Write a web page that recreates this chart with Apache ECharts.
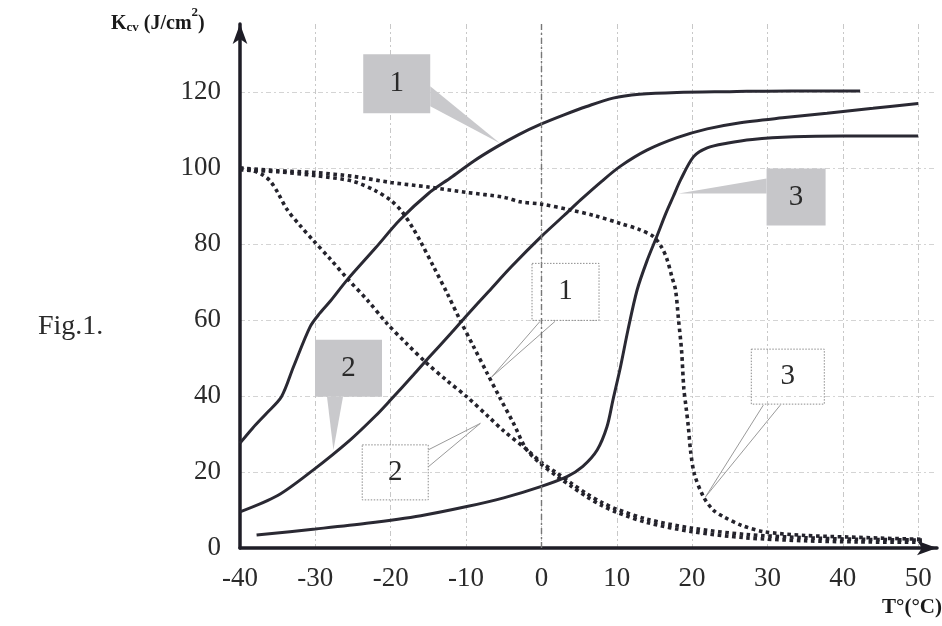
<!DOCTYPE html>
<html>
<head>
<meta charset="utf-8">
<script src="https://cdn.jsdelivr.net/npm/echarts@6/dist/echarts.min.js"></script>
<style>
html,body{margin:0;padding:0;background:#fff;}
#c{width:942px;height:626px;}
</style>
</head>
<body>
<div id="c"></div>
<script>
// ---- data (T in °C, Kcv in J/cm²) ----
const xTicks = [-40, -30, -20, -10, 0, 10, 20, 30, 40, 50];
const yTicks = [0, 20, 40, 60, 80, 100, 120];

const solid1T = [-40, -38.3, -36.5, -34.5, -32.9, -30.7, -29.4, -28, -25.8, -22, -18.8, -15, -12, -9, -6, -3, 0, 3, 6, 9.5, 13, 18, 25, 33, 42.3];
const solid1K = [27.6, 31.6, 35.4, 39.8, 47.7, 58.2, 61.8, 65, 70.5, 79, 86.3, 93.3, 97.5, 101.8, 105.5, 108.8, 111.6, 114, 116.2, 118.4, 119.4, 119.9, 120.1, 120.3, 120.3];

const solid2T = [-40, -35, -30.3, -25.4, -22, -20, -17, -15, -12, -10, -7, -4, 0, 3, 5.2, 8, 10.5, 14, 18, 22, 26, 32, 37.9, 44, 50];
const solid2K = [9.5, 13.8, 20.5, 28.4, 34.8, 39, 45.5, 50, 56.5, 61, 67.5, 74, 82, 87.5, 91.6, 96.5, 100.5, 104.7, 108, 110.3, 111.8, 113.2, 114.4, 115.7, 117];

const solid3T = [-37.8, -30, -23.2, -16, -9.9, -5, -0.2, 3.4, 5.5, 7.4, 8.7, 9.5, 10.5, 11.5, 12.7, 14, 15.3, 16.5, 17.5, 18.5, 20.2, 22, 24.6, 28, 33.5, 40, 50];
const solid3K = [3.4, 5, 6.5, 8.5, 10.9, 13.2, 16.1, 18.8, 21.5, 25.8, 31.9, 39, 47.7, 57.5, 67.9, 75.5, 81.9, 88, 92.5, 97, 103, 105.3, 106.5, 107.5, 108.2, 108.4, 108.4];

const dot1T = [-40, -35, -30, -25, -22, -20, -18.5, -17, -16, -14.3, -12.5, -10.8, -9, -7.2, -5.5, -3.7, -2, 0, 2, 4, 6, 8, 10, 14, 20, 27, 35, 42, 50.5];
const dot1K = [99.5, 99, 98, 96.5, 94, 91.5, 88.5, 84, 80.5, 74, 67, 60, 53, 46, 39.5, 32.8, 26, 22, 19, 16.2, 13.5, 11.2, 9.4, 6.7, 4.3, 2.7, 1.9, 1.6, 1.5];

const dot2T = [-40, -38.5, -37, -36, -35, -33.8, -32, -30.3, -28, -25.8, -23, -20.5, -18, -15.2, -12.5, -9.9, -7, -5, -2, 0, 2, 4, 6, 8, 10, 14, 20, 27, 35, 42, 50.5];
const dot2K = [100, 99.4, 98.2, 96.6, 93.6, 89.2, 84.8, 81, 76, 71, 65, 59.1, 54, 48.6, 44, 39.8, 34.5, 30.8, 26, 22.5, 19.8, 17, 14.3, 12, 10.2, 7.6, 5.2, 3.6, 2.7, 2.3, 2.1];

const dot3T = [-40, -35, -30, -25, -20, -15, -10, -5, -2.8, 0, 3.8, 7, 10.5, 13, 14.9, 16, 16.7, 17.3, 17.8, 18.2, 18.6, 18.9, 19.2, 19.5, 19.8, 20.3, 21.5, 22.8, 24.2, 26.5, 29.5, 35, 40.6, 45, 50.3];
const dot3K = [100, 99.3, 98.8, 97.8, 96.2, 95, 93.6, 92.3, 91.1, 90.5, 89, 87.5, 85.4, 83.8, 81.9, 79, 75.8, 71.5, 67.9, 60, 52, 42, 37, 31.9, 25.5, 19.5, 13.5, 10, 8.2, 6, 4.3, 3.3, 2.9, 2.6, 2.3];

// annotation labels: box centre and pointer tip in data units
const calloutLabels = ['1', '2', '3', '1', '2', '3'];
const calloutKinds = ['gray', 'gray', 'gray', 'white', 'white', 'white'];
const calloutCenter = [[-19.2, 122.2], [-25.6, 47.3], [33.8, 92.4], [3.2, 67.4], [-19.4, 19.9], [32.7, 45.1]];
const calloutTip = [[-5.5, 106.5], [-27.6, 25.8], [18.2, 93.3], [-6.6, 45], [-8.1, 32.8], [21.8, 13.5]];

function zip(a, b) { return a.map((v, i) => [v, b[i]]); }

const FONT = '"Liberation Serif", "DejaVu Serif", serif';
const LINE = '#2a2933';

const chart = echarts.init(document.getElementById('c'), null, {renderer: 'canvas'});

function solidSeries(name, T, K) {
  return {
    name, type: 'line', data: zip(T, K), showSymbol: false, symbol: 'none',
    smooth: 0.3,
    lineStyle: {color: LINE, width: 3}, z: 3, silent: true
  };
}
function dotSeries(name, T, K) {
  return {
    name, type: 'line', data: zip(T, K), showSymbol: false, symbol: 'none',
    smooth: 0.3,
    lineStyle: {color: '#24232c', width: 3.6, type: 'dotted'}, z: 3, silent: true
  };
}

const series = [
  solidSeries('s1', solid1T, solid1K),
  solidSeries('s2', solid2T, solid2K),
  solidSeries('s3', solid3T, solid3K),
  dotSeries('d1', dot1T, dot1K),
  dotSeries('d2', dot2T, dot2K),
  dotSeries('d3', dot3T, dot3K)
];
series[0].markLine = {
  silent: true, symbol: 'none', label: {show: false},
  lineStyle: {color: '#777', type: [6, 3, 2, 3], width: 1.4},
  data: [{xAxis: 0}]
};

chart.setOption({
  animation: false,
  backgroundColor: '#ffffff',
  grid: {left: 240, right: 5, top: 24, bottom: 78},
  xAxis: {
    type: 'value', min: -40, max: 52.5, interval: 10,
    axisLine: {show: true, onZero: false, lineStyle: {color: '#1e1d26', width: 3.5},
      symbol: ['none', 'arrow'], symbolSize: [11, 20]},
    axisTick: {show: false},
    axisLabel: {
      showMaxLabel: false, margin: 17, color: '#2a2a2a', fontFamily: FONT, fontSize: 27,
      formatter: v => (xTicks.indexOf(v) >= 0 ? String(v) : '')
    },
    splitLine: {show: true, showMaxLine: false, showMinLine: false,
      lineStyle: {color: '#c8c8c8', type: [5, 3, 2, 3], width: 1}}
  },
  yAxis: {
    type: 'value', min: 0, max: 137.9, interval: 20,
    axisLine: {show: true, onZero: false, lineStyle: {color: '#1e1d26', width: 3.5},
      symbol: ['none', 'arrow'], symbolSize: [11, 20]},
    axisTick: {show: false},
    axisLabel: {
      showMaxLabel: false, margin: 19, color: '#2a2a2a', fontFamily: FONT, fontSize: 27,
      formatter: v => (yTicks.indexOf(v) >= 0 ? String(v) : '')
    },
    splitLine: {show: true, showMaxLine: false, showMinLine: false,
      lineStyle: {color: '#d4d4d4', type: [5, 3, 2, 3], width: 1}}
  },
  series
});

// build annotations in pixel space from data coordinates
const gfx = [];
gfx.push({
  type: 'text', left: 111, top: 6, z: 10,
  style: {
    text: '{b|K}{sub|cv}{b| (J/cm}{sup|2}{b|)}',
    rich: {
      b: {fontFamily: FONT, fontWeight: 'bold', fontSize: 20, fill: '#1a1a1a', verticalAlign: 'bottom', lineHeight: 28},
      sub: {fontFamily: FONT, fontWeight: 'bold', fontSize: 13, fill: '#1a1a1a', verticalAlign: 'bottom', lineHeight: 22},
      sup: {fontFamily: FONT, fontWeight: 'bold', fontSize: 13, fill: '#1a1a1a', verticalAlign: 'top', lineHeight: 28}
    }
  }
});
gfx.push({
  type: 'text', right: 0, top: 597, z: 10,
  style: {text: 'T°(°C)', fontFamily: FONT, fontWeight: 'bold', fontSize: 21, fill: '#1a1a1a'}
});
gfx.push({
  type: 'text', left: 38, top: 313, z: 10,
  style: {text: 'Fig.1.', fontFamily: FONT, fontSize: 28, fill: '#2a2a2a'}
});

const boxSize = [[67, 59], [67, 57], [59, 57], [67, 57], [66, 55], [73, 55]];
for (let i = 0; i < calloutLabels.length; i++) {
  const c = chart.convertToPixel({gridIndex: 0}, calloutCenter[i]);
  const t = chart.convertToPixel({gridIndex: 0}, calloutTip[i]);
  const w = boxSize[i][0], h = boxSize[i][1];
  const x0 = c[0] - w / 2, y0 = c[1] - h / 2;
  let b1, b2;
  if (i === 0) { b1 = [x0 + w, y0 + 32]; b2 = [x0 + w, y0 + 52]; }
  else if (i === 1) { b1 = [x0 + 12, y0 + h]; b2 = [x0 + 28, y0 + h]; }
  else if (i === 2) { b1 = [x0, y0 + 10]; b2 = [x0, y0 + 25]; }
  else if (i === 3) { b1 = [x0 + 8, y0 + h + 1]; b2 = [x0 + 23, y0 + h + 1]; }
  else if (i === 4) { b1 = [x0 + w, y0 + 5]; b2 = [x0 + w, y0 + 22]; }
  else { b1 = [x0 + 12, y0 + h + 1]; b2 = [x0 + 29, y0 + h + 1]; }

  if (calloutKinds[i] === 'gray') {
    gfx.push({type: 'polygon', z: 4, silent: true,
      shape: {points: [b1, t, b2]}, style: {fill: '#c9c9cc'}});
    gfx.push({type: 'rect', z: 5, silent: true,
      shape: {x: x0, y: y0, width: w, height: h}, style: {fill: '#c6c6c9'}});
  } else {
    gfx.push({type: 'polyline', z: 4, silent: true,
      shape: {points: [b1, t, b2]}, style: {stroke: '#9a9a9a', lineWidth: 1, fill: null}});
    gfx.push({type: 'rect', z: 5, silent: true,
      shape: {x: x0, y: y0, width: w, height: h},
      style: {fill: 'rgba(255,255,255,0)', stroke: '#8c8c8c', lineWidth: 1, lineDash: [1.5, 1.5]}});
  }
  gfx.push({type: 'text', z: 6, silent: true,
    x: c[0], y: c[1],
    style: {text: calloutLabels[i], fontFamily: FONT, fontSize: 29, fill: '#2a2a2a',
      align: 'center', verticalAlign: 'middle'}});
}
chart.setOption({graphic: gfx});
</script>
</body>
</html>
